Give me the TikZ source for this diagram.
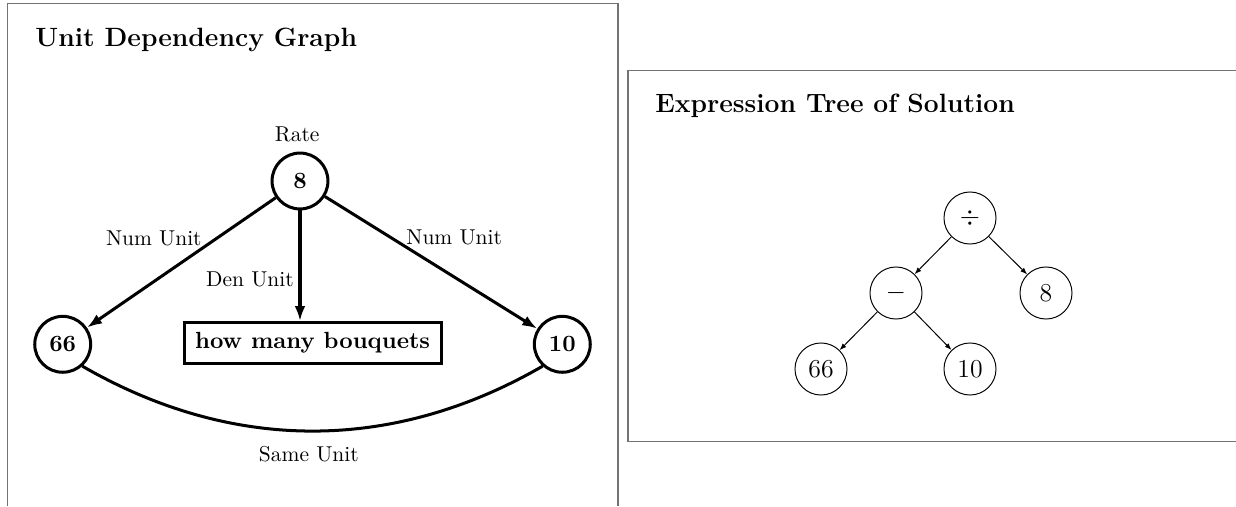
\documentclass[tikz,border=0pt]{standalone}
\usetikzlibrary{arrows.meta}
\begin{document}
\begin{tikzpicture}[x=0.465pt,y=0.465pt,
  panel/.style={line width=0.7pt, draw=black!55},
  title/.style={anchor=base west, inner sep=0pt, font=\fontsize{12.3}{14}\selectfont\bfseries},
  unode/.style={circle, draw, line width=1.4pt, minimum size=26pt, inner sep=0pt, font=\fontsize{10.85}{13}\selectfont\bfseries},
  qbox/.style={rectangle, draw, line width=1.4pt, minimum width=119.5pt, minimum height=19pt, inner sep=0pt, font=\fontsize{10.85}{13}\selectfont\bfseries},
  elabel/.style={anchor=base, inner sep=0pt, font=\fontsize{10}{12}\selectfont},
  uedge/.style={line width=1.4pt, -{Latex[length=7pt,width=5pt]}},
  ucurve/.style={line width=1.4pt},
  tnode/.style={circle, draw, line width=0.45pt, minimum size=24.2pt, inner sep=0pt, font=\fontsize{12}{14}\selectfont},
  tedge/.style={line width=0.45pt, -{Latex[length=3.2pt,width=2.4pt]}},
]
\useasboundingbox (0,0) rectangle (1236,-506);
% panels
\draw[panel] (7.5,-506) -- (7.5,-3.5) -- (618,-3.5) -- (618,-506);
\draw[panel] (1236,-70.5) -- (628,-70.5) -- (628,-441.5) -- (1236,-441.5);
% titles
\node[title] (t1) at (35,-46) {Unit Dependency Graph};
\node[title] (t2) at (655,-112.3) {Expression Tree of Solution};
% unit dependency graph
\node[unode] (u8) at (300,-181) {8};
\node[unode] (u66) at (62.7,-344.3) {66};
\node[unode] (u10) at (562.3,-344.3) {10};
\node[qbox] (q) at (312.6,-343) {how many bouquets};
\node[elabel] (rate) at (297.2,-141.7) {Rate};
\node[elabel] (nl) at (153.8,-245) {Num Unit};
\node[elabel] (dl) at (250,-286) {Den Unit};
\node[elabel] (nr) at (454.2,-244.3) {Num Unit};
\node[elabel] (sl) at (308.8,-461.7) {Same Unit};
\draw[uedge] (u8) -- (u66);
\draw[uedge] (u8) -- (u10);
\draw[uedge] (u8.south) -- (u8.south |- q.north);
\draw[ucurve] (u66.-48) .. controls +(-30:173) and +(-150:173) .. (u10.-132);
% expression tree
\node[tnode] (div) at (970,-218) {$\div$};
\node[tnode] (minus) at (896,-293) {$-$};
\node[tnode] (e8) at (1046,-293) {8};
\node[tnode] (e66) at (821,-369) {66};
\node[tnode] (e10) at (970,-369) {10};
\draw[tedge] (div) -- (minus);
\draw[tedge] (div) -- (e8);
\draw[tedge] (minus) -- (e66);
\draw[tedge] (minus) -- (e10);
\end{tikzpicture}
\end{document}
